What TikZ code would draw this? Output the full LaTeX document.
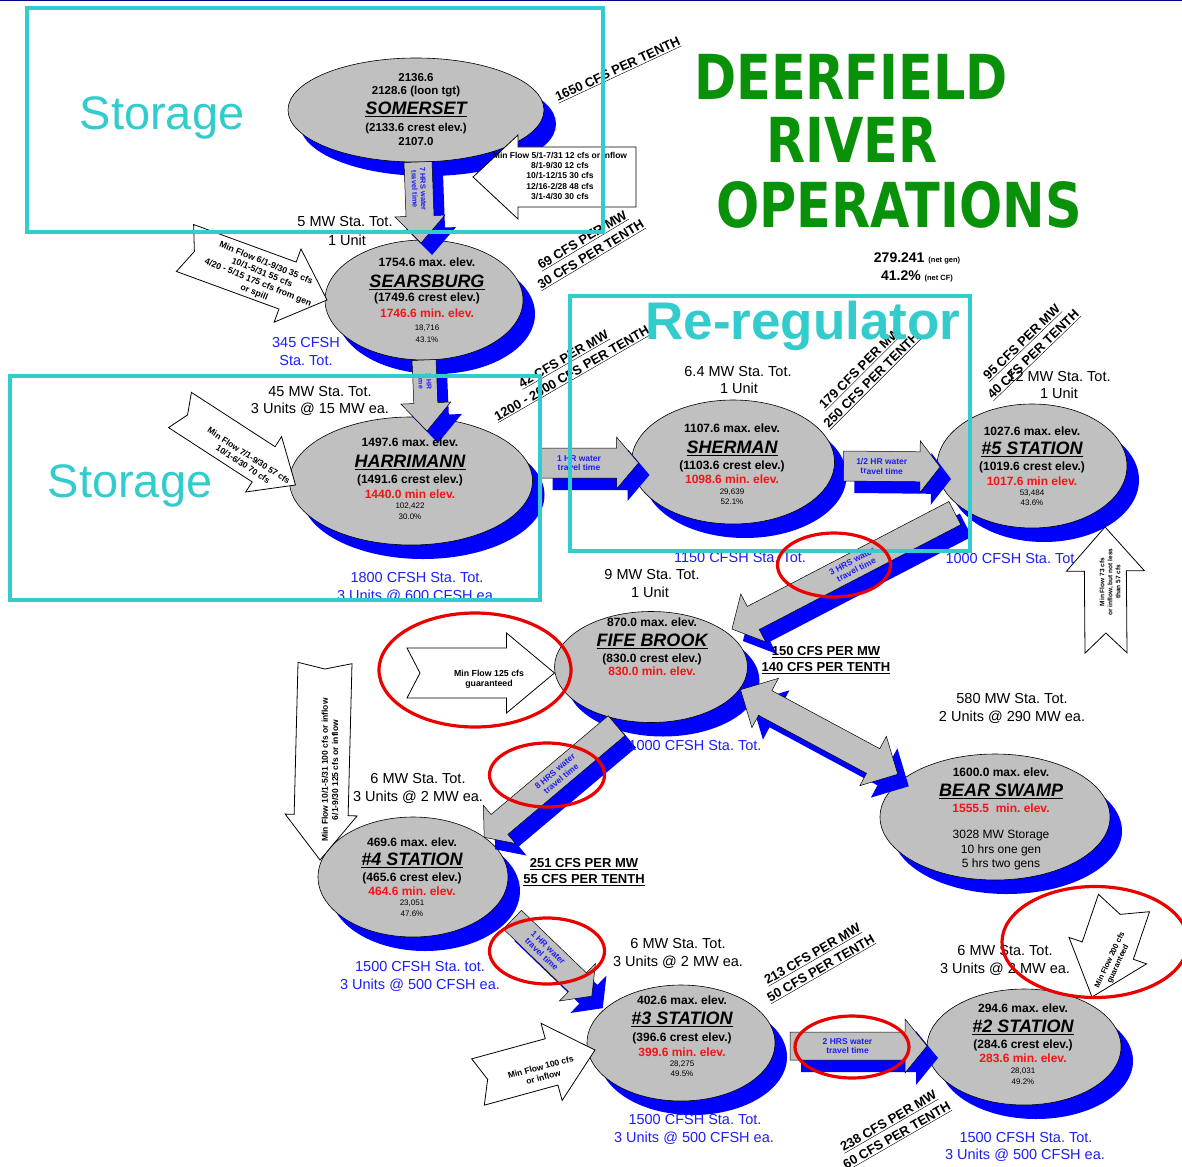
\documentclass[tikz,border=0pt]{standalone}
\usepackage{fontspec}
\setmainfont{Liberation Sans}
\newfontfamily\titlefont{DejaVu Sans}
\usepackage{graphicx}
\usetikzlibrary{calc,shapes.geometric}
\definecolor{shblue}{RGB}{0,0,255}
\definecolor{stgrey}{RGB}{192,192,192}
\definecolor{txblue}{RGB}{30,30,245}
\definecolor{txred}{RGB}{245,20,20}
\definecolor{cyanbox}{RGB}{51,204,204}
\definecolor{annred}{RGB}{235,0,0}
\definecolor{titlegreen}{RGB}{10,145,10}
\definecolor{titleedge}{RGB}{0,90,0}
\definecolor{navyline}{RGB}{0,0,140}
\newcommand\fs[2]{\fontsize{#1}{#2}\selectfont}
\newcounter{tn}
\newcommand\tx[3][]{\stepcounter{tn}\node[#1] (t\arabic{tn}) at (#2) {#3};}
\newcommand\station[4]{%
  \node[stnshadow, minimum width=#3pt, minimum height=#4pt] (#1-sh) at ($(#2)+(12,14)$) {};
  \node[stn, minimum width=#3pt, minimum height=#4pt] (#1) at (#2) {};}
\newcommand\flowarrow[8][]{%
  \coordinate (fa) at (#3);
  \coordinate (fb) at (#4);
  \coordinate (fh) at ($(fb)!#7pt!(fa)$);
  \coordinate (sa) at ($(fa)+(11,12)$);
  \coordinate (sb) at ($(fb)+(11,12)$);
  \coordinate (sh) at ($(fh)+(11,12)$);
  \fill[arrshadow] ($(sa)!#5pt!90:(sb)$) -- ($(sh)!#5pt!90:(sb)$) -- ($(sh)!#6pt!90:(sb)$) -- (sb) -- ($(sh)!#6pt!-90:(sb)$) -- ($(sh)!#5pt!-90:(sb)$) -- ($(sa)!#5pt!-90:(sb)$) -- cycle;
  \filldraw[greyarrow] ($(fa)!#5pt!90:(fb)$) -- ($(fh)!#5pt!90:(fb)$) -- ($(fh)!#6pt!90:(fb)$) -- (fb) -- ($(fh)!#6pt!-90:(fb)$) -- ($(fh)!#5pt!-90:(fb)$) -- ($(fa)!#5pt!-90:(fb)$) -- cycle;
  \path (fa) -- (fh) node[midway, sloped, flowtxt, #1] (#2) {#8};
}
\newcommand\minarrow[7]{%
  \coordinate (#1-tail) at (#2);
  \coordinate (#1-tip) at (#3);
  \coordinate (mh) at ($(#1-tip)!#6pt!(#1-tail)$);
  \coordinate (mn) at ($(#1-tail)!#7pt!(#1-tip)$);
  \filldraw[whitearrow] ($(#1-tail)!#4pt!90:(#1-tip)$) -- ($(mh)!#4pt!90:(#1-tip)$) -- ($(mh)!#5pt!90:(#1-tip)$) -- (#1-tip) -- ($(mh)!#5pt!-90:(#1-tip)$) -- ($(mh)!#4pt!-90:(#1-tip)$) -- ($(#1-tail)!#4pt!-90:(#1-tip)$) -- (mn) -- cycle;
}
\tikzset{
  stn/.style={ellipse, draw=black, line width=0.6pt, fill=stgrey, inner sep=0pt, outer sep=0pt},
  stnshadow/.style={ellipse, fill=shblue, inner sep=0pt, outer sep=0pt},
  lbl/.style={inner sep=0pt, anchor=base, yshift=-5.2pt, font=\fs{14.5}{16}},
  bluelbl/.style={lbl, text=txblue},
  val/.style={inner sep=0pt, anchor=base, yshift=-4.3pt, font=\fs{12}{14}\bfseries},
  valS/.style={inner sep=0pt, anchor=base, yshift=-4.1pt, font=\fs{11.5}{13}\bfseries},
  redval/.style={val, text=txred},
  nm/.style={inner sep=0pt, anchor=base, yshift=-6.4pt, font=\fs{18}{20}\bfseries\itshape},
  smallnum/.style={inner sep=0pt, anchor=base, yshift=-2.9pt, font=\fs{8}{9}},
  regval/.style={inner sep=0pt, anchor=base, yshift=-4.3pt, font=\fs{12}{14}},
  cfs/.style={inner sep=0pt, font=\fs{13}{16.5}\bfseries, align=center},
  flowtxt/.style={inner sep=0pt, font=\fs{8.5}{9.5}\bfseries, text=txblue, align=center},
  mintxt/.style={inner sep=0pt, font=\fs{8.5}{10.3}\bfseries, align=center},
  greyarrow/.style={fill=stgrey, draw=black, line width=0.5pt, line join=miter},
  arrshadow/.style={fill=shblue},
  whitearrow/.style={fill=white, draw=black, line width=0.8pt, line join=miter},
  boxline/.style={draw=cyanbox, line width=3.5pt},
  annot/.style={ellipse, draw=annred, line width=3.2pt, inner sep=0pt},
  boxtxt/.style={inner sep=0pt, anchor=base, text=cyanbox},
  ttlsty/.style={inner sep=0pt, anchor=base, text=titlegreen, font=\titlefont\fs{62}{62}\bfseries},
}
\begin{document}
\frenchspacing
\begin{tikzpicture}[x=1pt,y=-1pt]
\useasboundingbox (0,0) rectangle (1182,1166);
\fill[white] (0,0) rectangle (1182,1166);
\draw[navyline, line width=1.5pt] (0,0.75) -- (1182,0.75);

% stations
\station{somerset}{416,110}{256}{104}
\station{searsburg}{424,300}{198}{120}
\station{harriman}{411,481}{243}{128}
\station{sherman}{733,462}{203}{124}
\station{five}{1032,466}{190}{124}
\station{fife}{651,667}{193}{111}
\station{bear}{995,817}{230}{126}
\station{four}{413,877}{190}{120}
\station{three}{681,1043}{188}{116}
\station{two}{1024,1047}{194}{116}

% grey flow arrows
\flowarrow[font=\fs{7.5}{8.5}\bfseries]{a1}{$(somerset.south)+(2,0)$}{$(searsburg.north)+(-3,3)$}{14}{25}{27}{7 HRS water\\travel time}
\flowarrow[font=\fs{7}{8}\bfseries]{a2}{searsburg.south}{$(harriman.north)+(16,14)$}{12}{25}{28}{1 HR\\time}
\flowarrow{a3}{$(harriman.east)+(9,-18)$}{$(sherman.west)+(7,1)$}{15}{26}{22}{1 HR water\\travel time}
\flowarrow{a4}{$(sherman.east)+(9,4)$}{$(five.west)+(3,1)$}{15}{26}{20}{1/2 HR water\\travel time}
\flowarrow{a5}{$(five.210)+(-6,6)$}{$(fife.25)+(6,-3)$}{13}{27}{24}{3 HRS water\\travel time}
\flowarrow{a7}{$(fife.240)+(-4,6)$}{$(four.26)+(-4,-3)$}{13}{25}{20}{8 HRS water\\travel time}
\flowarrow{a8}{$(four.-25)+(23,7)$}{$(three.152)+(-18,-9)$}{13}{26}{20}{1 HR water\\travel time}
\flowarrow{a9}{$(three.east)+(15,3)$}{$(two.west)+(0,-1)$}{14}{27}{22}{2 HRS water\\travel time}

% double arrow Fife Brook <-> Bear Swamp
\coordinate (da) at ($(fife.-20)+(8,-7)$);
\coordinate (db) at ($(bear.156)+(-8,-3)$);
\coordinate (dh1) at ($(da)!28pt!(db)$);
\coordinate (dh2) at ($(db)!28pt!(da)$);
\coordinate (sda) at ($(da)+(11,12)$);
\coordinate (sdb) at ($(db)+(11,12)$);
\coordinate (sdh1) at ($(dh1)+(11,12)$);
\coordinate (sdh2) at ($(dh2)+(11,12)$);
\fill[arrshadow] (sda) -- ($(sdh1)!28pt!90:(sdb)$) -- ($(sdh1)!14pt!90:(sdb)$) -- ($(sdh2)!14pt!-90:(sda)$) -- ($(sdh2)!28pt!-90:(sda)$) -- (sdb) -- ($(sdh2)!28pt!90:(sda)$) -- ($(sdh2)!14pt!90:(sda)$) -- ($(sdh1)!14pt!-90:(sdb)$) -- ($(sdh1)!28pt!-90:(sdb)$) -- cycle;
\filldraw[greyarrow] (da) -- ($(dh1)!28pt!90:(db)$) -- ($(dh1)!14pt!90:(db)$) -- ($(dh2)!14pt!-90:(da)$) -- ($(dh2)!28pt!-90:(da)$) -- (db) -- ($(dh2)!28pt!90:(da)$) -- ($(dh2)!14pt!90:(da)$) -- ($(dh1)!14pt!-90:(db)$) -- ($(dh1)!28pt!-90:(db)$) -- cycle;

% station texts
\tx[valS]{416,77}{2136.6}
\tx[valS]{416,90}{2128.6 (loon tgt)}
\tx[nm]{416,108}{\underline{SOMERSET}}
\tx[valS]{416,127}{(2133.6 crest elev.)}
\tx[valS]{416,141}{2107.0}

\tx[val]{427,262}{1754.6 max. elev.}
\tx[nm]{427,281}{\underline{SEARSBURG}}
\tx[val]{427,297}{(1749.6 crest elev.)}
\tx[redval]{427,313}{1746.6 min. elev.}
\tx[smallnum]{427,328}{18,716}
\tx[smallnum]{427,340}{43.1\%}

\tx[val]{410,442}{1497.6 max. elev.}
\tx[nm]{410,461}{\underline{HARRIMANN}}
\tx[val]{410,479}{(1491.6 crest elev.)}
\tx[redval]{410,494}{1440.0 min elev.}
\tx[smallnum]{410,506}{102,422}
\tx[smallnum]{410,517}{30.0\%}

\tx[val]{732,428}{1107.6 max. elev.}
\tx[nm]{732,447}{\underline{SHERMAN}}
\tx[val]{732,465}{(1103.6 crest elev.)}
\tx[redval]{732,479}{1098.6 min. elev.}
\tx[smallnum]{732,492}{29,639}
\tx[smallnum]{732,502}{52.1\%}

\tx[val]{1032,431}{1027.6 max. elev.}
\tx[nm]{1032,448}{\underline{\#5 STATION}}
\tx[val]{1032,466}{(1019.6 crest elev.)}
\tx[redval]{1032,481}{1017.6 min elev.}
\tx[smallnum]{1032,493}{53,484}
\tx[smallnum]{1032,503}{43.6\%}

\tx[val]{652,622}{870.0 max. elev.}
\tx[nm]{652,640}{\underline{FIFE BROOK}}
\tx[val]{652,658}{(830.0 crest elev.)}
\tx[redval]{652,671}{830.0 min. elev.}

\tx[val]{1001,772}{1600.0 max. elev.}
\tx[nm]{1001,790}{\underline{BEAR SWAMP}}
\tx[redval]{1001,808}{1555.5\ \ min. elev.}
\tx[regval]{1001,834}{3028 MW Storage}
\tx[regval]{1001,849}{10 hrs one gen}
\tx[regval]{1001,863}{5 hrs two gens}

\tx[val]{412,842}{469.6 max. elev.}
\tx[nm]{412,859}{\underline{\#4 STATION}}
\tx[val]{412,877}{(465.6 crest elev.)}
\tx[redval]{412,891}{464.6 min. elev.}
\tx[smallnum]{412,903}{23,051}
\tx[smallnum]{412,914}{47.6\%}

\tx[val]{682,1000}{402.6 max. elev.}
\tx[nm]{682,1018}{\underline{\#3 STATION}}
\tx[val]{682,1037}{(396.6 crest elev.)}
\tx[redval]{682,1052}{399.6 min. elev.}
\tx[smallnum]{682,1064}{28,275}
\tx[smallnum]{682,1074}{49.5\%}

\tx[val]{1023,1008}{294.6 max. elev.}
\tx[nm]{1023,1026}{\underline{\#2 STATION}}
\tx[val]{1023,1044}{(284.6 crest elev.)}
\tx[redval]{1023,1058}{283.6 min. elev.}
\tx[smallnum]{1023,1071}{28,031}
\tx[smallnum]{1023,1082}{49.2\%}

% outside labels
\tx[lbl]{345,221}{5 MW Sta. Tot.}
\tx[lbl]{347,240}{1 Unit}
\tx[bluelbl]{306,342}{345 CFSH}
\tx[bluelbl]{306,360}{Sta. Tot.}
\tx[lbl]{320,391}{45 MW Sta. Tot.}
\tx[lbl]{320,408}{3 Units @ 15 MW ea.}
\tx[bluelbl]{417,577}{1800 CFSH Sta. Tot.}
\tx[bluelbl]{417,595}{3 Units @ 600 CFSH ea.}
\tx[lbl]{738,371}{6.4 MW Sta. Tot.}
\tx[lbl]{739,388}{1 Unit}
\tx[bluelbl]{740,557}{1150 CFSH Sta. Tot.}
\tx[lbl]{1059,376}{12 MW Sta. Tot.}
\tx[lbl]{1059,393}{1 Unit}
\tx[bluelbl]{1012,558}{1000 CFSH Sta. Tot.}
\tx[lbl]{652,574}{9 MW Sta. Tot.}
\tx[lbl]{650,592}{1 Unit}
\tx[bluelbl]{695,745}{1000 CFSH Sta. Tot.}
\tx[lbl]{1012,698}{580 MW Sta. Tot.}
\tx[lbl]{1012,716}{2 Units @ 290 MW ea.}
\tx[lbl]{418,778}{6 MW Sta. Tot.}
\tx[lbl]{418,796}{3 Units @ 2 MW ea.}
\tx[bluelbl]{420,966}{1500 CFSH Sta. tot.}
\tx[bluelbl]{420,984}{3 Units @ 500 CFSH ea.}
\tx[lbl]{678,943}{6 MW Sta. Tot.}
\tx[lbl]{678,961}{3 Units @ 2 MW ea.}
\tx[bluelbl]{695,1119}{1500 CFSH Sta. Tot.}
\tx[bluelbl]{694,1137}{3 Units @ 500 CFSH ea.}
\tx[lbl]{1005,950}{6 MW Sta. Tot.}
\tx[lbl]{1005,968}{3 Units @ 2 MW ea.}
\tx[bluelbl]{1026,1137}{1500 CFSH Sta. Tot.}
\tx[bluelbl]{1025,1154}{3 Units @ 500 CFSH ea.}

\tx[inner sep=0pt, font=\fs{14}{16}\bfseries]{917,258}{279.241 {\fs{7.5}{8}(net gen)}}
\tx[inner sep=0pt, font=\fs{14}{16}\bfseries]{917,276}{41.2\% {\fs{7.5}{8}(net CF)}}

% CFS labels
\tx[cfs, rotate=25]{618,70}{\underline{1650 CFS PER TENTH}}
\tx[cfs, rotate=31]{587,248}{\underline{69 CFS PER MW}\\\underline{30 CFS PER TENTH}}
\tx[cfs, rotate=30]{568,367}{\underline{42 CFS PER MW}\\\underline{1200 - 2000 CFS PER TENTH}}
\tx[cfs, rotate=45]{866,375}{\underline{179 CFS PER MW}\\\underline{250 CFS PER TENTH}}
\tx[cfs, rotate=44]{1028,349}{\underline{95 CFS PER MW}\\\underline{40 CFS PER TENTH}}
\tx[cfs]{826,660}{\underline{150 CFS PER MW}\\\underline{140 CFS PER TENTH}}
\tx[cfs]{584,872}{\underline{251 CFS PER MW}\\\underline{55 CFS PER TENTH}}
\tx[cfs, rotate=30]{817,962}{\underline{213 CFS PER MW}\\\underline{50 CFS PER TENTH}}
\tx[cfs, rotate=30]{893,1129}{\underline{238 CFS PER MW}\\\underline{60 CFS PER TENTH}}

% white minimum flow arrows
\minarrow{w1}{$(somerset.east)+(92,67)$}{$(somerset.south)+(57,15)$}{30}{42}{45}{0}
\minarrow{w2}{185,248}{$(searsburg.west)+(2,0)$}{25}{39}{42}{10}
\minarrow{w3}{180,410}{$(harriman.west)+(6,4)$}{21}{33}{38}{9}
\minarrow{w4}{1106,653}{$(five.south)+(73,-1)$}{21}{39}{44}{20}
\minarrow{w5}{407,673}{$(fife.west)+(0,6)$}{25}{40}{48}{13}
\minarrow{w6}{325,663}{$(four.west)+(2,-17)$}{27}{36}{45}{6}
\minarrow{w7}{478,1082}{$(three.west)+(8,7)$}{24}{40}{45}{10}
\minarrow{w8}{1124,903}{$(two.north)+(68,8)$}{27}{41}{49}{12}

\tx[mintxt]{560,176}{Min Flow 5/1-7/31 12 cfs or inflow\\8/1-9/30 12 cfs\\10/1-12/15 30 cfs\\12/16-2/28 48 cfs\\3/1-4/30 30 cfs}
\tx[mintxt, font=\fs{8.8}{10.5}\bfseries, rotate=-22]{260,278}{Min Flow 6/1-9/30 35 cfs\\10/1-5/31 55 cfs\\4/20 - 5/15 175 cfs from gen\\or spill}
\tx[mintxt, rotate=-33]{246,460}{Min Flow 7/1-9/30 57 cfs\\10/1-6/30 70 cfs}
\tx[mintxt, font=\fs{6.5}{8}\bfseries, rotate=90]{1110,582}{Min Flow 73 cfs\\or inflow, but not less\\than 57 cfs}
\tx[mintxt, font=\fs{8.8}{10}\bfseries]{489,679}{Min Flow 125 cfs\\guaranteed}
\tx[mintxt, rotate=90]{330,770}{Min Flow 10/1-5/31 100 cfs or inflow\\6/1-9/30 125 cfs or inflow}
\tx[mintxt, rotate=15]{542,1072}{Min Flow 100 cfs\\or inflow}
\tx[mintxt, font=\fs{7.7}{9}\bfseries, rotate=65]{1114,962}{Min Flow 200 cfs\\guaranteed}

% cyan boxes
\draw[boxline] (27,8) rectangle (603,232);
\draw[boxline] (10,376) rectangle (540,600);
\draw[boxline] (570,296) rectangle (970,551);
\tx[boxtxt, font=\fs{47}{50}]{162,130}{Storage}
\tx[boxtxt, font=\fs{47}{50}]{130,497}{Storage}
\tx[boxtxt, font=\fs{53}{56}\bfseries]{803,339}{Re-regulator}

% red annotation ellipses
\node[annot, minimum width=192pt, minimum height=114pt] (r1) at (475,670) {};
\node[annot, minimum width=115pt, minimum height=64pt] (r2) at (547,775) {};
\node[annot, minimum width=115pt, minimum height=66pt] (r3) at (547,951) {};
\node[annot, minimum width=113pt, minimum height=64pt] (r4) at (834,565) {};
\node[annot, minimum width=114pt, minimum height=62pt] (r5) at (852,1047) {};
\node[annot, minimum width=186pt, minimum height=111pt] (r6) at (1095,942) {};

% title
\node[ttlsty] (ttl1) at (851,100) {\scalebox{0.82}[1]{DEERFIELD}};
\node[ttlsty] (ttl2) at (852,163) {\scalebox{0.82}[1]{RIVER}};
\node[ttlsty] (ttl3) at (899,228) {\scalebox{0.82}[1]{OPERATIONS}};
\end{tikzpicture}
\end{document}
